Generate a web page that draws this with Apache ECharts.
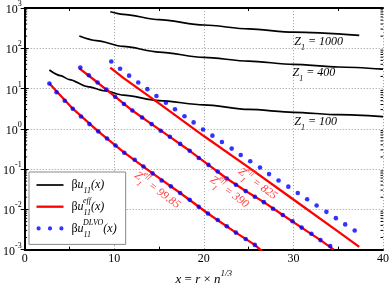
<!DOCTYPE html>
<html><head><meta charset="utf-8">
<script src="https://cdn.jsdelivr.net/npm/echarts@6/dist/echarts.min.js"></script>
<style>html,body{margin:0;padding:0;background:#fff}#c{width:392px;height:291px}</style>
</head><body><div id="c"></div>
<script>
// ---- tick labels ----
const xTicks = [0, 10, 20, 30, 40];
const yExps = [-3, -2, -1, 0, 1, 2, 3];

// ---- black: beta u_11(x) ----
const z1000X = [9.56, 11.0, 15.0, 20.0, 25.0, 30.0, 37.35];
const z1000Y = [805, 697, 515, 378, 302, 251, 209];
const z400X = [6.1, 8.0, 11.0, 15.0, 20.0, 25.0, 30.0, 35.0, 40.0];
const z400Y = [201, 155, 111, 80.5, 59.4, 47.9, 39.8, 34.3, 30.2];
const z100X = [2.76, 4.0, 5.0, 7.0, 9.0, 11.0, 15.0, 20.0, 25.0, 30.0, 35.0, 40.0];
const z100Y = [28.8, 20.9, 16.6, 11.2, 8.7, 6.87, 5.0, 3.92, 3.02, 2.57, 2.24, 2.0];

// ---- red: beta u_11^eff(x) ----
const eff99X = [2.76, 5.37, 8.21, 11.12, 14.28, 17.36, 20.46, 23.58, 25.69, 26.3, 27.0];
const eff99Y = [13.3, 3.16, 0.865, 0.255, 0.078, 0.0255, 0.0079, 0.00264, 0.00131, 0.001, 0.0007];
const eff390X = [6.1, 8.14, 10.1, 12.02, 14.17, 16.21, 18.42, 20.52, 22.56, 24.67, 26.7, 28.81, 30.92, 33.02, 34.5];
const eff390Y = [31.7, 14.1, 6.27, 2.84, 1.31, 0.632, 0.284, 0.127, 0.0582, 0.0284, 0.0151, 0.00726, 0.00352, 0.00172, 0.001];
const eff825X = [9.56, 11.01, 15.0, 20.0, 25.0, 30.0, 35.0, 37.35];
const eff825Y = [32.9, 18.4, 4.27, 0.66, 0.11, 0.0175, 0.0028, 0.00117];

// ---- blue: beta u_11^DLVO(x) ----
const dlvo99X = [2.76, 3.56, 4.47, 5.37, 6.29, 7.23, 8.21, 9.19, 10.14, 11.12, 12.28, 13.26, 14.28, 15.29, 16.32, 17.36, 18.42, 19.43, 20.46, 21.55, 22.56, 23.58, 24.67, 25.69];
const dlvo99Y = [13.3, 8.07, 4.97, 3.16, 2.02, 1.31, 0.865, 0.574, 0.385, 0.255, 0.171, 0.116, 0.078, 0.0522, 0.0372, 0.0255, 0.0172, 0.01153, 0.0079, 0.00542, 0.00379, 0.00264, 0.00184, 0.00131];
const dlvo390X = [6.21, 7.16, 8.14, 9.12, 10.1, 11.08, 12.02, 13.11, 14.17, 15.18, 16.21, 17.36, 18.42, 19.43, 20.52, 21.55, 22.56, 23.58, 24.67, 25.69, 26.7, 27.72, 28.81, 29.9, 30.92, 32.01, 33.02, 34.11];
const dlvo390Y = [33.4, 21.3, 14.1, 9.5, 6.27, 4.14, 2.84, 1.91, 1.31, 0.898, 0.632, 0.422, 0.284, 0.188, 0.127, 0.0869, 0.0582, 0.0408, 0.0284, 0.0206, 0.0151, 0.01035, 0.00726, 0.00506, 0.00352, 0.00247, 0.00172, 0.00122];
const dlvo825X = [9.67, 10.65, 11.66, 12.68, 13.7, 14.71, 15.77, 16.78, 17.84, 18.86, 19.91, 20.96, 22.02, 23.11, 24.12, 25.18, 26.27, 27.28, 28.34, 29.43, 30.49, 31.53, 32.59, 33.68, 34.74, 35.78, 36.84];
const dlvo825Y = [46.9, 31.1, 20.9, 14.1, 9.66, 6.5, 4.46, 3.05, 2.05, 1.44, 0.964, 0.675, 0.47, 0.322, 0.224, 0.157, 0.109, 0.075, 0.0522, 0.0366, 0.0255, 0.0178, 0.01245, 0.00867, 0.00604, 0.00423, 0.00299];

// ---- annotation texts ----
const zLabels = ['1000', '400', '100'];
const effLabels = ['99.85', '390', '825'];

// ---- layout (positions in data coords, separate from data) ----
const zLabelPos = [[30.1, 145], [29.9, 25.1], [30.1, 1.48]];
const effLabelPos = [[14.8, 0.030], [22.85, 0.027], [26.0, 0.043]];

const FONT = '"Liberation Serif", "Times New Roman", Times, serif';
const pairs = (xs, ys) => xs.map((x, i) => [x, ys[i]]);

function rich(size, color) {
  const s = Math.round(size * 0.68);
  return {
    n: {fontFamily: FONT, fontSize: size, lineHeight: 20, color: color, fill: color},
    i: {fontFamily: FONT, fontSize: size, fontStyle: 'italic', lineHeight: 20, color: color, fill: color},
    sub: {fontFamily: FONT, fontSize: s, fontStyle: 'italic', lineHeight: 12, verticalAlign: 'bottom', color: color, fill: color},
    sup: {fontFamily: FONT, fontSize: s, fontStyle: 'italic', lineHeight: 10, verticalAlign: 'top', color: color, fill: color},
    sups2: {fontFamily: FONT, fontSize: s, fontStyle: 'italic', lineHeight: 10, verticalAlign: 'top', padding: [0, 0, 0, -8], color: color, fill: color},
    sups1: {fontFamily: FONT, fontSize: s, fontStyle: 'italic', lineHeight: 10, verticalAlign: 'top', padding: [0, 0, 0, -4], color: color, fill: color}
  };
}

const legendText = {
  u11: '{n| β}{i|u}{sub|11}{i|(x)}',
  eff: '{n| β}{i|u}{sub|11}{sups2|eff}{i|(x)}',
  dlvo: '{n| β}{i|u}{sub|11}{sups2|DLVO}{i|(x)}'
};

const minorVals = [];
for (let e = yExps[0]; e < yExps[yExps.length - 1]; e++) {
  for (let m = 2; m <= 9; m++) minorVals.push([0, m * Math.pow(10, e)]);
}

const gridLine = {show: true, lineStyle: {color: '#aaaaaa', type: [1.2, 1.8], width: 1}};
const axisLine = {show: true, lineStyle: {color: '#000', width: 2}};

function blackLine(d) {
  return {type: 'line', name: 'u11', data: d, symbol: 'none', smooth: 0.3, smoothMonotone: 'x',
    lineStyle: {color: '#000', width: 1.7}, itemStyle: {color: '#000'}, z: 3};
}
function redLine(d) {
  return {type: 'line', name: 'eff', data: d, symbol: 'none',
    lineStyle: {color: '#ff0000', width: 2.3}, itemStyle: {color: '#ff0000'}, z: 4};
}
function blueDots(d) {
  return {type: 'scatter', name: 'dlvo', data: d, symbol: 'circle', symbolSize: 4.6,
    itemStyle: {color: '#0000ff'}, z: 5};
}

const chart = echarts.init(document.getElementById('c'));
const option = {
  animation: false,
  backgroundColor: '#fff',
  grid: {left: 19, right: 5, top: 6, bottom: 29},
  xAxis: [{
    type: 'value', min: xTicks[0], max: xTicks[xTicks.length - 1], interval: xTicks[1] - xTicks[0],
    position: 'bottom', axisLine: axisLine,
    axisTick: {show: false, inside: true},
    minorTick: {show: true, splitNumber: 2, length: 3, lineStyle: {color: '#000', width: 1}},
    splitLine: gridLine,
    axisLabel: {margin: 3, color: '#000', fontFamily: FONT, fontSize: 12},
    name: '{i|x}{n| = }{i|r}{n| × }{i|n}{sup|1/3}',
    nameLocation: 'middle', nameGap: 18,
    nameTextStyle: {rich: rich(13, '#000')}
  }, {
    type: 'value', min: xTicks[0], max: xTicks[xTicks.length - 1], interval: xTicks[1] - xTicks[0],
    position: 'top', axisLine: axisLine,
    axisTick: {show: false, inside: true},
    minorTick: {show: true, splitNumber: 2, length: 3, lineStyle: {color: '#000', width: 1}},
    splitLine: {show: false}, axisLabel: {show: false}
  }],
  yAxis: [{
    type: 'log', logBase: 10, min: Math.pow(10, yExps[0]), max: Math.pow(10, yExps[yExps.length - 1]),
    splitNumber: 6, position: 'left', axisLine: axisLine,
    axisTick: {show: true, inside: true, length: 4, lineStyle: {color: '#000', width: 1}},
    splitLine: gridLine,
    axisLabel: {
      margin: 3, padding: [4, 0, 0, 0],
      formatter: v => '{b|10}{s|' + Math.round(Math.log10(v)) + '}',
      rich: {
        b: {fontFamily: FONT, fontSize: 12, lineHeight: 20, color: '#000'},
        s: {fontFamily: FONT, fontSize: 8, lineHeight: 10, verticalAlign: 'top', color: '#000'}
      }
    }
  }, {
    type: 'log', logBase: 10, min: Math.pow(10, yExps[0]), max: Math.pow(10, yExps[yExps.length - 1]),
    splitNumber: 6, position: 'right', axisLine: axisLine,
    axisTick: {show: true, inside: true, length: 4, lineStyle: {color: '#000', width: 1}},
    splitLine: {show: false}, axisLabel: {show: false}
  }],
  legend: {
    orient: 'vertical', left: 29, top: 172,
    padding: [7, 9, 6, 7.5],
    itemWidth: 27, itemHeight: 14, itemGap: 1.7,
    backgroundColor: '#fff', borderColor: '#888', borderWidth: 1,
    selectedMode: false,
    data: [
      {name: 'u11', icon: 'path://M0,0h27v1.7h-27z'},
      {name: 'eff', icon: 'path://M0,0h27v2.3h-27z'},
      {name: 'dlvo', icon: 'path://M0,2.1a2.1,2.1 0 1,0 4.2,0a2.1,2.1 0 1,0 -4.2,0zM11.4,2.1a2.1,2.1 0 1,0 4.2,0a2.1,2.1 0 1,0 -4.2,0zM22.8,2.1a2.1,2.1 0 1,0 4.2,0a2.1,2.1 0 1,0 -4.2,0z'}
    ],
    formatter: n => legendText[n],
    textStyle: {rich: rich(12, '#000')}
  },
  series: [
    {
      type: 'custom', name: 'minorTicks', silent: true, data: minorVals, z: 6,
      renderItem: (p, api) => {
        const v = api.value(1);
        const a = api.coord([xTicks[0], v]);
        const b = api.coord([xTicks[xTicks.length - 1], v]);
        return {type: 'group', children: [
          {type: 'line', shape: {x1: a[0], y1: a[1], x2: a[0] + 2.5, y2: a[1]}, style: {stroke: '#000', lineWidth: 1}},
          {type: 'line', shape: {x1: b[0], y1: b[1], x2: b[0] - 2.5, y2: b[1]}, style: {stroke: '#000', lineWidth: 1}}
        ]};
      }
    },
    blackLine(pairs(z1000X, z1000Y)),
    blackLine(pairs(z400X, z400Y)),
    blackLine(pairs(z100X, z100Y)),
    redLine(pairs(eff99X, eff99Y)),
    redLine(pairs(eff390X, eff390Y)),
    redLine(pairs(eff825X, eff825Y)),
    blueDots(pairs(dlvo99X, dlvo99Y)),
    blueDots(pairs(dlvo390X, dlvo390Y)),
    blueDots(pairs(dlvo825X, dlvo825Y))
  ]
};
chart.setOption(option);

// annotations placed via the chart's own scales
const graphics = [];
const rb = rich(12, '#000');
zLabels.forEach((t, k) => {
  const p = chart.convertToPixel({gridIndex: 0}, zLabelPos[k]);
  graphics.push({type: 'text', x: p[0], y: p[1], z: 10, silent: true,
    style: {text: '{i|Z}{sub|1}{i| = ' + t + '}', rich: rb, align: 'left', verticalAlign: 'middle'}});
});
const rr = rich(11.5, '#ff3c3c');
effLabels.forEach((t, k) => {
  const p = chart.convertToPixel({gridIndex: 0}, effLabelPos[k]);
  graphics.push({type: 'text', x: p[0], y: p[1], rotation: -0.64, z: 10, silent: true,
    style: {text: '{i|Z}{sub|1}{sups1|eff}{i| = ' + t + '}', rich: rr, align: 'center', verticalAlign: 'middle'}});
});
chart.setOption({graphic: graphics});
</script>
</body></html>
